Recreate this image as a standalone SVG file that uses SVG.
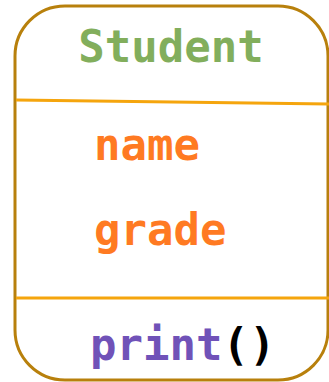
<svg xmlns="http://www.w3.org/2000/svg" width="329" height="382" viewBox="0 0 329 382">
  <style>
    .label { font-family: "DejaVu Sans Mono", "Liberation Mono", monospace; font-weight: bold; font-size: 44px; }
    .title { fill: #82ae5c; }
    .attr { fill: #ff7a22; }
    .method { fill: #7052b8; }
    .paren { fill: #000000; }
    .divider { stroke: #f5a50d; stroke-width: 3; fill: none; }
  </style>
  <g id="student-class">
    <rect x="15" y="6" width="313" height="374" rx="50" ry="50" fill="#ffffff" stroke="#b8800c" stroke-width="3"/>
    <line class="divider" x1="16" y1="100" x2="329" y2="104"/>
    <line class="divider" x1="16" y1="298" x2="329" y2="298"/>
    <text class="label title" x="171" y="62" text-anchor="middle">Student</text>
    <text class="label attr" x="94" y="160">name</text>
    <text class="label attr" x="94" y="245">grade</text>
    <text class="label" x="90" y="360"><tspan class="method">print</tspan><tspan class="paren">()</tspan></text>
  </g>
</svg>
